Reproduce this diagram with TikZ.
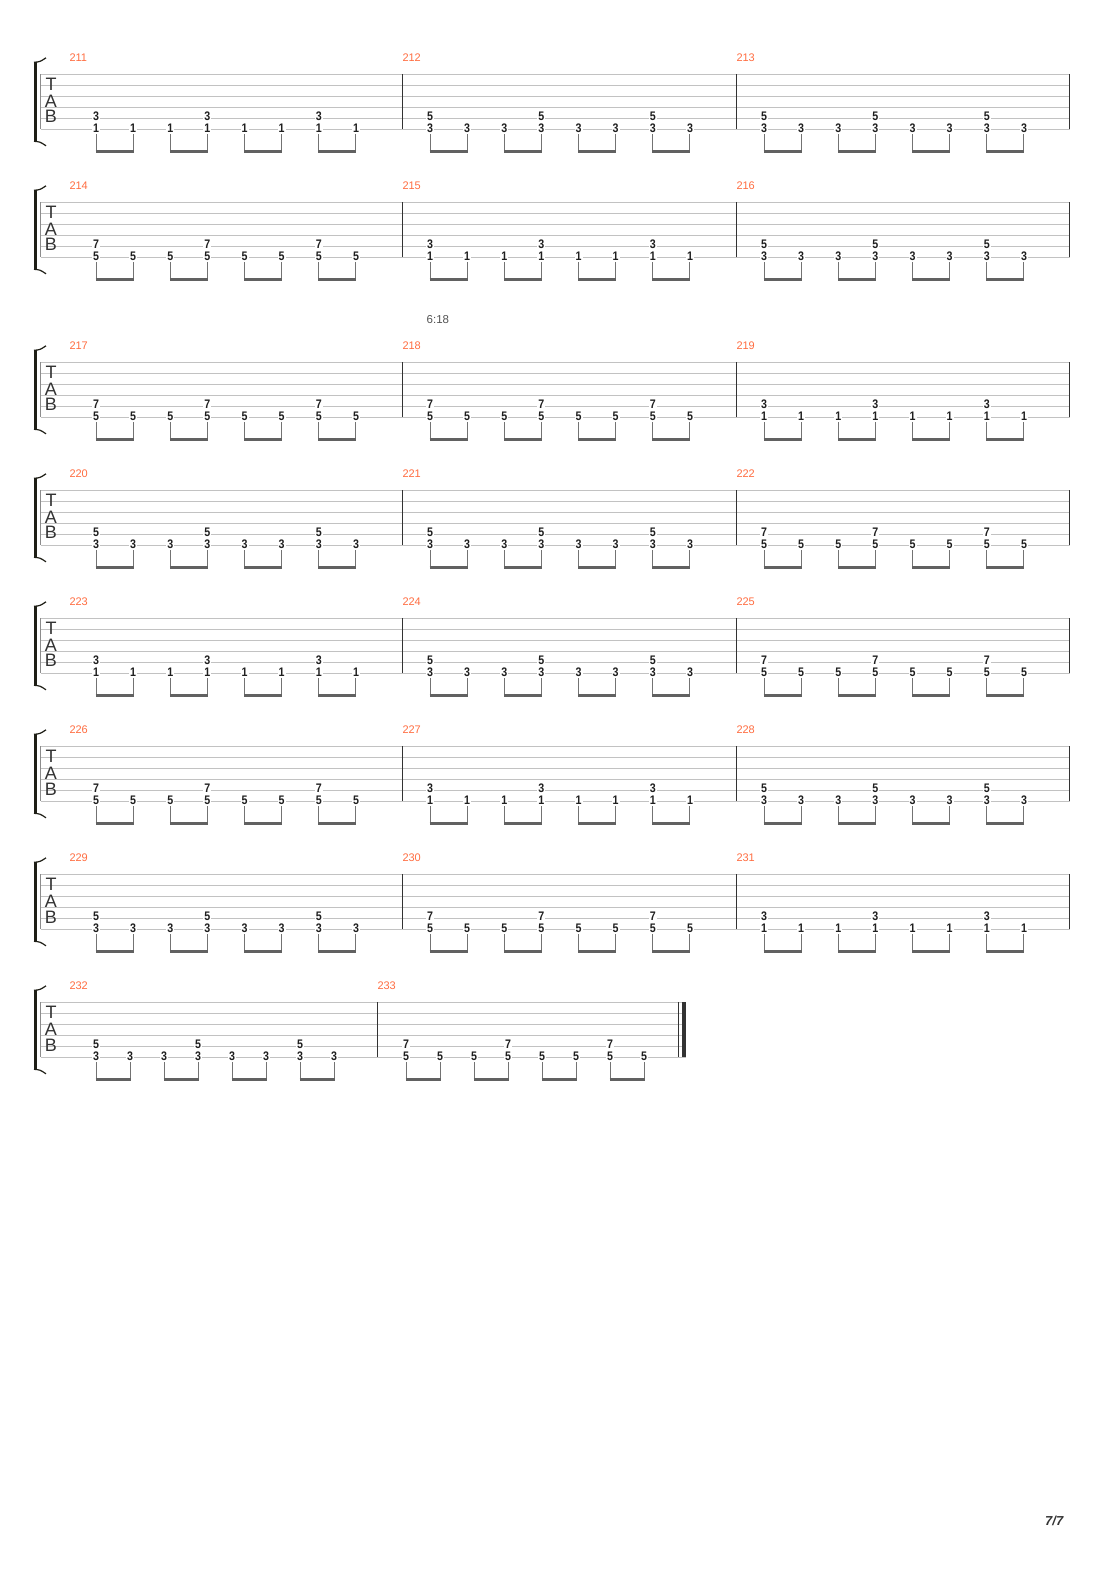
\documentclass[tikz,border=0pt]{standalone}
\usepackage{fontspec}
\setmainfont{Liberation Sans}
\newfontfamily\fretfont[FakeStretch=0.86]{Liberation Sans}
\usetikzlibrary{calc,positioning}
\definecolor{barnum}{RGB}{255,108,64}
\definecolor{staffgray}{RGB}{194,194,194}
\definecolor{inkgray}{RGB}{51,51,51}
\definecolor{bracketc}{RGB}{30,30,22}

\begin{document}
\begin{tikzpicture}[x=1pt,y=-1pt,
  staffline/.style={draw=staffgray,line width=1pt},
  barline/.style={draw=inkgray,line width=1.3pt},
  clef/.style={inner sep=0pt,text=inkgray,font=\fontsize{18}{18}\selectfont},
  barno/.style={anchor=west,inner sep=0pt,text=barnum,font=\fontsize{11}{11}\selectfont},
  fret/.style={fill=white,inner xsep=1pt,inner ysep=1pt,text height=8.6pt,text depth=0pt,
    text=black!88,font=\fretfont\bfseries\fontsize{12.4}{12.4}\selectfont},
  stem/.style={draw=black!55,line width=1pt,shorten <=1pt},
  beam/.style={draw=black!62,line width=2.7pt,shorten <=-0.5pt,shorten >=-0.5pt}]
  \useasboundingbox (0,0) rectangle (1110,1570);

  % staves
  \foreach \s/\Y/\xe in {1/74.3/1069.5,2/202.3/1069.5,3/362.3/1069.5,4/490.3/1069.5,
    5/618.3/1069.5,6/746.3/1069.5,7/874.3/1069.5,8/1002.3/686}{
    \foreach \k in {0,...,5}
      \draw[staffline] (40.7,\Y+11*\k) -- (\xe,\Y+11*\k);
    \draw[draw=black!45,line width=1pt] (40.7,\Y) -- (40.7,\Y+55);
    \fill[bracketc] (33.5,\Y-12.5) rectangle (36.5,\Y+67.5);
    \draw[bracketc,line width=1.2pt] (34,\Y-12) .. controls (40,\Y-12.5) .. (46,\Y-16.5);
    \draw[bracketc,line width=1.2pt] (34,\Y+67) .. controls (40,\Y+67.5) .. (46,\Y+71.5);
    \node[clef] (T\s) at (51,\Y+10) {T};
    \node[clef] (A\s) at (51,\Y+27) {A};
    \node[clef] (B\s) at (51,\Y+42.5) {B};
  }

  % barlines
  \foreach \Y in {74.3,202.3,362.3,490.3,618.3,746.3,874.3}
    \foreach \bx in {402.3,736.3,1069.5}
      \draw[barline] (\bx,\Y) -- (\bx,\Y+55);
  \draw[barline] (377.3,1002.3) -- (377.3,1057.3);
  \draw[barline] (678.3,1002.3) -- (678.3,1057.3);
  \fill[inkgray] (682,1002.3) rectangle (686,1057.3);

  % measures
  \foreach \num/\Y/\lx/\fx/\dx/\lo in {
    211/74.3/69.3/96/37.14/1, 212/74.3/402.3/430/37.14/3, 213/74.3/736.3/764/37.14/3,
    214/202.3/69.3/96/37.14/5, 215/202.3/402.3/430/37.14/1, 216/202.3/736.3/764/37.14/3,
    217/362.3/69.3/96/37.14/5, 218/362.3/402.3/430/37.14/5, 219/362.3/736.3/764/37.14/1,
    220/490.3/69.3/96/37.14/3, 221/490.3/402.3/430/37.14/3, 222/490.3/736.3/764/37.14/5,
    223/618.3/69.3/96/37.14/1, 224/618.3/402.3/430/37.14/3, 225/618.3/736.3/764/37.14/5,
    226/746.3/69.3/96/37.14/5, 227/746.3/402.3/430/37.14/1, 228/746.3/736.3/764/37.14/3,
    229/874.3/69.3/96/37.14/3, 230/874.3/402.3/430/37.14/5, 231/874.3/736.3/764/37.14/1,
    232/1002.3/69.3/96/34/3, 233/1002.3/377.3/406/34/5}{
    \node[barno] (m\num) at (\lx,\Y-17) {\num};
    \pgfmathtruncatemacro\hi{\lo+2}
    \foreach \i in {0,...,7}{
      \node[fret] (n\num-\i) at (\fx+\i*\dx,\Y+53.6) {\lo};
      \coordinate (s\num-\i) at (\fx+\i*\dx,\Y+78.4);
      \draw[stem] (n\num-\i.south) -- (s\num-\i);
    }
    \foreach \i in {0,3,6}
      \node[fret,above=0.4pt of n\num-\i] (t\num-\i) {\hi};
    \foreach \a/\b in {0/1,2/3,4/5,6/7}
      \draw[beam] ([yshift=1.35pt]s\num-\a) -- ([yshift=1.35pt]s\num-\b);
  }

  % time and page
  \node[anchor=west,inner sep=0pt,text=black!68,font=\fontsize{11.5}{11.5}\selectfont] (time) at (426.5,319.3) {6:18};
  \node[anchor=west,inner sep=0pt,text=inkgray,font=\bfseries\itshape\fontsize{13}{13}\selectfont] (page) at (1045,1521) {7/7};
\end{tikzpicture}
\end{document}
